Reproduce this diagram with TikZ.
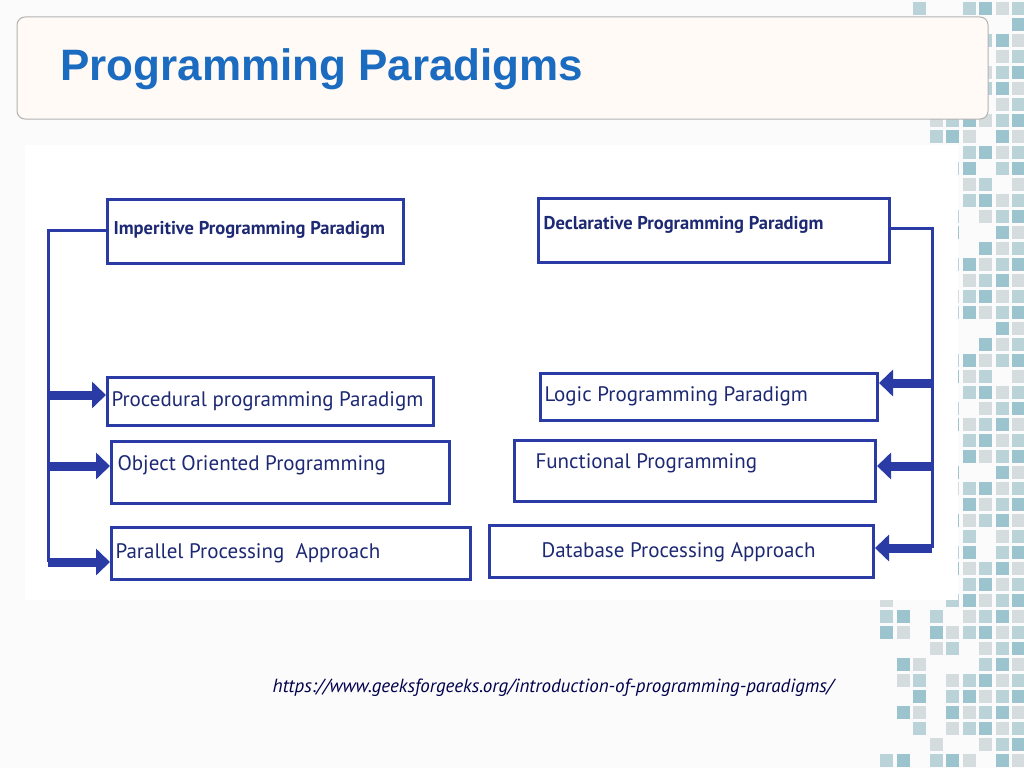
\documentclass[tikz,border=0pt]{standalone}
\usepackage{fontspec}
\setmainfont{Liberation Sans}
\newfontfamily\boxfont{PT Sans}
\usetikzlibrary{arrows.meta}
\definecolor{bx}{HTML}{2B3BA6}
\definecolor{tt}{HTML}{1B6CC0}
\definecolor{sqA}{HTML}{9CC4CE}
\definecolor{sqB}{HTML}{D5DCDD}
\definecolor{sqC}{HTML}{B9D3D8}
\tikzset{
  pbox/.style={draw=bx,line width=3pt,fill=white,anchor=north west,inner sep=0pt},
  btxt/.style={font=\boxfont\fontsize{21}{22}\selectfont,text=bx!70!black,anchor=west},
  bbtxt/.style={font=\boxfont\bfseries\fontsize{18.5}{22}\selectfont,text=bx!70!black,anchor=west},
  conn/.style={draw=bx,line width=3pt},
  fat/.style={draw=bx,line width=9pt,-{Triangle[length=14pt,width=26pt]}}
}
\begin{document}
\begin{tikzpicture}[x=1pt,y=-1pt]
\useasboundingbox (0,0) rectangle (1024,768);
\fill[white!97!gray] (0,0) rectangle (1024,768);
% decorative squares
\pgfmathsetseed{7}
\foreach \c in {0,...,8}{
  \foreach \r in {0,...,47}{
    \pgfmathsetmacro{\xx}{880+\c*16.5}
    \pgfmathsetmacro{\yy}{2+\r*16}
    \pgfmathsetmacro{\p}{rnd}
    \pgfmathsetmacro{\thr}{0.3+\c*0.09}
    \pgfmathparse{\p<\thr?1:0}
    \ifnum\pgfmathresult=1
      \pgfmathparse{int(mod(\r+\c,3))}
      \ifcase\pgfmathresult
        \fill[sqA] (\xx,\yy) rectangle ++(13,13);
      \or
        \fill[sqB] (\xx,\yy) rectangle ++(13,13);
      \else
        \fill[sqC] (\xx,\yy) rectangle ++(13,13);
      \fi
    \fi
  }
}
% title bar
\draw[gray!60,fill=orange!4!white,rounded corners=8pt,line width=1pt] (17,17) rectangle (988,119);
\node[anchor=west,text=tt,font=\bfseries\fontsize{44}{50}\selectfont,inner sep=0pt] (title) at (60,69) {Programming Paradigms};
% panel
\fill[white] (25,145) rectangle (958,600);
% boxes
\node[pbox,minimum width=296pt,minimum height=64pt] (imp) at (106,198) {};
\node[bbtxt] (impt) at (110,230) {Imperitive Programming Paradigm};
\node[pbox,minimum width=326pt,minimum height=48pt] (proc) at (106,376) {};
\node[btxt] (proct) at (108,401) {Procedural programming Paradigm};
\node[pbox,minimum width=338pt,minimum height=62pt] (obj) at (110,440) {};
\node[btxt] (objt) at (114,465) {Object Oriented Programming};
\node[pbox,minimum width=359pt,minimum height=52pt] (par) at (110,526) {};
\node[btxt] (part) at (112,553) {Parallel Processing\ \ Approach};
\node[pbox,minimum width=351pt,minimum height=64pt] (dec) at (537,197) {};
\node[bbtxt] (dect) at (540,225) {Declarative Programming Paradigm};
\node[pbox,minimum width=337pt,minimum height=47pt] (log) at (539,372) {};
\node[btxt] (logt) at (541,396) {Logic Programming Paradigm};
\node[pbox,minimum width=361pt,minimum height=61pt] (fun) at (513,439) {};
\node[btxt] (funt) at (532,463) {Functional Programming};
\node[pbox,minimum width=384pt,minimum height=52pt] (db) at (488,524) {};
\node[btxt] (dbt) at (538,552) {Database Processing Approach};
% left connectors
\coordinate (lt) at (48,230);
\coordinate (lb) at (48,562);
\draw[conn] (imp.west |- lt) -- (lt) -- (lb);
\draw[fat] (48,395) -- (proc.west |- 0,395);
\draw[fat] (48,466) -- (obj.west |- 0,466);
\draw[fat] (48,562) -- (par.west |- 0,562);
% right connectors
\coordinate (rt) at (932,228);
\coordinate (rb) at (932,548);
\draw[conn] (dec.east |- rt) -- (rt) -- (rb);
\draw[fat] (932,383) -- (log.east |- 0,383);
\draw[fat] (932,466) -- (fun.east |- 0,466);
\draw[fat] (932,548) -- (db.east |- 0,548);
% url
\node[font=\boxfont\itshape\fontsize{19}{21}\selectfont,text=blue!30!black] (url) at (553,688) {https://www.geeksforgeeks.org/introduction-of-programming-paradigms/};
\end{tikzpicture}
\end{document}
